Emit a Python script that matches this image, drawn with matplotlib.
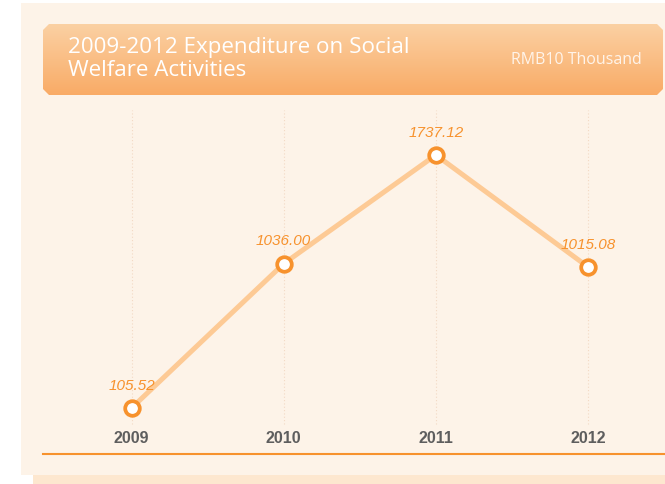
"""Expenditure on social welfare activities, 2009-2012"""

import numpy as np
import matplotlib
matplotlib.use("Agg")
import matplotlib.pyplot as plt
from matplotlib.patches import Rectangle, Polygon

years = [2009, 2010, 2011, 2012]
values = [105.52, 1036.00, 1737.12, 1015.08]
value_labels = ["105.52", "1036.00", "1737.12", "1015.08"]
title = "2009-2012 Expenditure on Social\nWelfare Activities"
unit = "RMB10 Thousand"

W, H = 665, 484
CREAM = "#fdf3e8"
ORANGE = "#f7922d"
LINE = "#fdca95"


def fx(px):
	return px / W


def fy(py):
	#pixel from top -> figure fraction from bottom
	return 1 - py / H


fig = plt.figure(figsize=(W / 100, H / 100), dpi=100, facecolor="white")

#Background axes for the panel and its shadow strip
ax_bg = fig.add_axes([0, 0, 1, 1], zorder=-10)
ax_bg.set_xlim(0, W)
ax_bg.set_ylim(H, 0)
ax_bg.axis("off")
ax_bg.add_patch(Rectangle((33, 470), 632, 14, facecolor="#fde7cf", edgecolor="none"))
ax_bg.add_patch(Rectangle((21, 3), 644, 472, facecolor=CREAM, edgecolor="none"))

#Banner with gradient and cut corners
ax_b = fig.add_axes([fx(43), fy(95), fx(620), 71 / H], zorder=1)
ax_b.set_xlim(0, 1)
ax_b.set_ylim(0, 1)
ax_b.axis("off")
grad = np.linspace(0, 1, 256).reshape(-1, 1)
top = np.array(matplotlib.colors.to_rgb("#fbd1a4"))
bot = np.array(matplotlib.colors.to_rgb("#f9ab66"))
img = (bot + (top - bot) * grad).reshape(256, 1, 3)
im = ax_b.imshow(img, extent=(0, 1, 0, 1), origin="lower", aspect="auto")
cx, cy = 6 / 620, 6 / 71
clip = Polygon([(cx, 0), (1 - cx, 0), (1, cy), (1, 1 - cy), (1 - cx, 1), (cx, 1), (0, 1 - cy), (0, cy)],
			   closed=True, transform=ax_b.transAxes, facecolor="none", edgecolor="none")
ax_b.add_patch(clip)
im.set_clip_path(clip)

ax_b.text((68 - 43) / 620, 36 / 71, title, transform=ax_b.transAxes, color="white", fontsize=16.1,
		  family=["Open Sans", "DejaVu Sans"], ha="left", va="center", linespacing=1.12)
ax_b.text((642 - 43) / 620, 35 / 71, unit, transform=ax_b.transAxes, color="#fff4ea", fontsize=11.5,
		  family=["Open Sans", "DejaVu Sans"], ha="right", va="center")

#Chart
ax = fig.add_axes([fx(43), fy(454), fx(622), 344 / H], zorder=2)
ax.set_facecolor("none")
ax.set_xlim(2008.418, 2012.506)
ax.set_ylim(-191, 2027)
for s in ["top", "left", "right"]:
	ax.spines[s].set_visible(False)
ax.spines["bottom"].set_color(ORANGE)
ax.spines["bottom"].set_linewidth(1.5)
ax.set_xticks([])
ax.set_yticks([])

ax.vlines(years, 0, 2027, colors="#f3d9c4", linestyles=(0, (1, 2)), linewidth=0.8, zorder=1)
ax.plot(years, values, color=LINE, lw=3.6, zorder=2, solid_capstyle="round")
ax.plot(years, values, "o", ms=10.5, mfc="white", mec=ORANGE, mew=2.7, zorder=3)

for x, v, lab in zip(years, values, value_labels):
	ax.annotate(lab, (x, v), xytext=(0, 16), textcoords="offset points", ha="center", va="center",
				color=ORANGE, fontsize=11, style="italic", family="Liberation Sans")
	ax.annotate(str(x), (x, 0), xytext=(0, -10), textcoords="offset points", ha="center", va="center",
				color="#5e5e5e", fontsize=11.5, fontweight="bold", family="Liberation Sans")

fig.savefig("out.png", dpi=100, facecolor=fig.get_facecolor())
